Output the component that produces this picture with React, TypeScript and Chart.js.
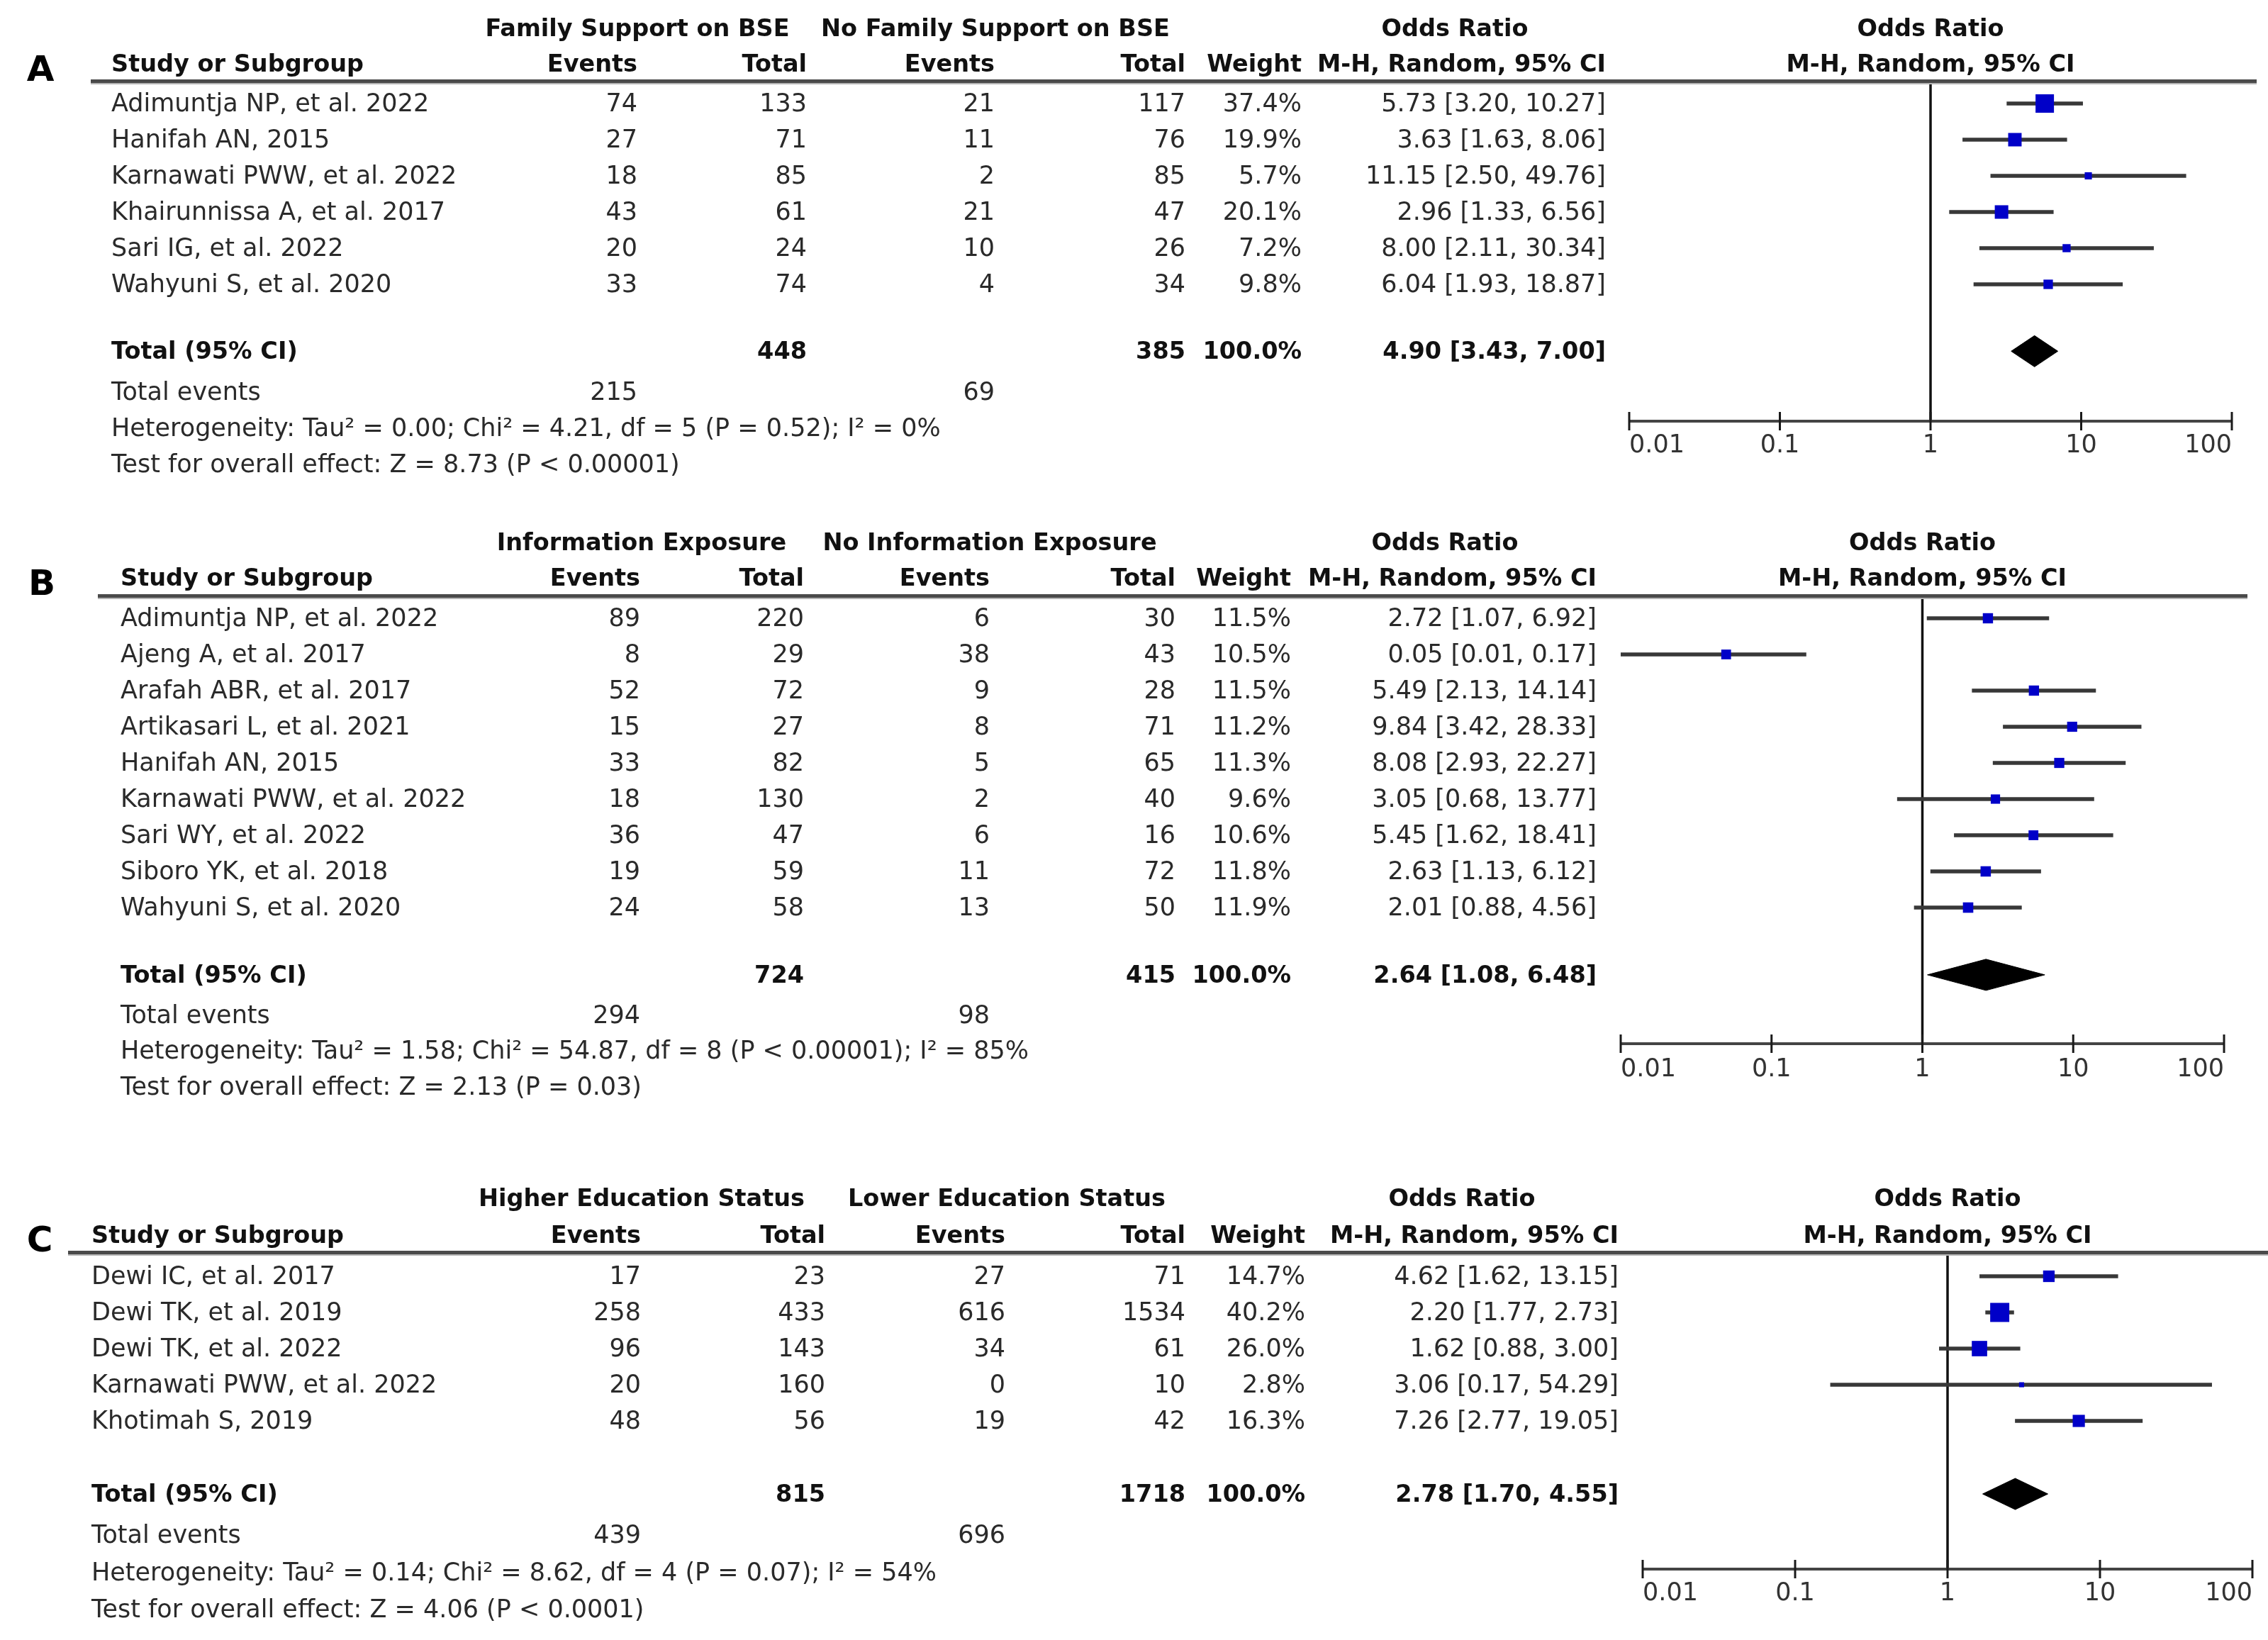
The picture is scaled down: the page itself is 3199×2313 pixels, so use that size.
import React, { useEffect, useRef } from 'react';
import { Chart, registerables } from 'chart.js';

Chart.register(...registerables);

// ---------- shared axis ----------
const TICK_VALUES = [0.01, 0.1, 1, 10, 100];
const TICK_LABELS = ['0.01', '0.1', '1', '10', '100'];

// ---------- Panel A ----------
const groupsA = ['Family Support on BSE', 'No Family Support on BSE'];
const studiesA = [
  'Adimuntja NP, et al. 2022',
  'Hanifah AN, 2015',
  'Karnawati PWW, et al. 2022',
  'Khairunnissa A, et al. 2017',
  'Sari IG, et al. 2022',
  'Wahyuni S, et al. 2020',
];
const expEventsA = [74, 27, 18, 43, 20, 33];
const expTotalA = [133, 71, 85, 61, 24, 74];
const ctrlEventsA = [21, 11, 2, 21, 10, 4];
const ctrlTotalA = [117, 76, 85, 47, 26, 34];
const weightA = [37.4, 19.9, 5.7, 20.1, 7.2, 9.8];
const orA = [5.73, 3.63, 11.15, 2.96, 8.0, 6.04];
const loA = [3.2, 1.63, 2.5, 1.33, 2.11, 1.93];
const hiA = [10.27, 8.06, 49.76, 6.56, 30.34, 18.87];
const totalsA = [448, 385];
const totalEventsA = [215, 69];
const pooledA = [4.9, 3.43, 7.0];
const hetA = 'Heterogeneity: Tau² = 0.00; Chi² = 4.21, df = 5 (P = 0.52); I² = 0%';
const testA = 'Test for overall effect: Z = 8.73 (P < 0.00001)';

// ---------- Panel B ----------
const groupsB = ['Information Exposure', 'No Information Exposure'];
const studiesB = [
  'Adimuntja NP, et al. 2022',
  'Ajeng A, et al. 2017',
  'Arafah ABR, et al. 2017',
  'Artikasari L, et al. 2021',
  'Hanifah AN, 2015',
  'Karnawati PWW, et al. 2022',
  'Sari WY, et al. 2022',
  'Siboro YK, et al. 2018',
  'Wahyuni S, et al. 2020',
];
const expEventsB = [89, 8, 52, 15, 33, 18, 36, 19, 24];
const expTotalB = [220, 29, 72, 27, 82, 130, 47, 59, 58];
const ctrlEventsB = [6, 38, 9, 8, 5, 2, 6, 11, 13];
const ctrlTotalB = [30, 43, 28, 71, 65, 40, 16, 72, 50];
const weightB = [11.5, 10.5, 11.5, 11.2, 11.3, 9.6, 10.6, 11.8, 11.9];
const orB = [2.72, 0.05, 5.49, 9.84, 8.08, 3.05, 5.45, 2.63, 2.01];
const loB = [1.07, 0.01, 2.13, 3.42, 2.93, 0.68, 1.62, 1.13, 0.88];
const hiB = [6.92, 0.17, 14.14, 28.33, 22.27, 13.77, 18.41, 6.12, 4.56];
const totalsB = [724, 415];
const totalEventsB = [294, 98];
const pooledB = [2.64, 1.08, 6.48];
const hetB = 'Heterogeneity: Tau² = 1.58; Chi² = 54.87, df = 8 (P < 0.00001); I² = 85%';
const testB = 'Test for overall effect: Z = 2.13 (P = 0.03)';

// ---------- Panel C ----------
const groupsC = ['Higher Education Status', 'Lower Education Status'];
const studiesC = [
  'Dewi IC, et al. 2017',
  'Dewi TK, et al. 2019',
  'Dewi TK, et al. 2022',
  'Karnawati PWW, et al. 2022',
  'Khotimah S, 2019',
];
const expEventsC = [17, 258, 96, 20, 48];
const expTotalC = [23, 433, 143, 160, 56];
const ctrlEventsC = [27, 616, 34, 0, 19];
const ctrlTotalC = [71, 1534, 61, 10, 42];
const weightC = [14.7, 40.2, 26.0, 2.8, 16.3];
const orC = [4.62, 2.2, 1.62, 3.06, 7.26];
const loC = [1.62, 1.77, 0.88, 0.17, 2.77];
const hiC = [13.15, 2.73, 3.0, 54.29, 19.05];
const totalsC = [815, 1718];
const totalEventsC = [439, 696];
const pooledC = [2.78, 1.7, 4.55];
const hetC = 'Heterogeneity: Tau² = 0.14; Chi² = 8.62, df = 4 (P = 0.07); I² = 54%';
const testC = 'Test for overall effect: Z = 4.06 (P < 0.0001)';

// ---------- layout (page pixels) ----------
const PAGE_W = 3199;
const FONT = '"DejaVu Sans", "Liberation Sans", sans-serif';
const BOX_K = 4.25; // px per sqrt(weight %)
const DIAMOND_HALF = 22; // px
const TEXT_DY = 2;

type Cols = { study: number; ev1: number; tot1: number; grp1: number; ev2: number; tot2: number; grp2: number; wt: number; ci: number; or: number };
type Layout = {
  top: number; height: number; letterX: number; letterY: number; h1Y: number; h2Y: number;
  ruleY: number; ruleX0: number; ruleX1: number; axisY: number; tickLabelY: number;
  x001: number; x100: number; firstRowY: number; pitch: number; totalGap: number; extra: number[]; cols: Cols;
};

const layoutA: Layout = {
  top: 0, height: 720, letterX: 57, letterY: 99, h1Y: 40, h2Y: 90,
  ruleY: 115, ruleX0: 128, ruleX1: 3183, axisY: 594, tickLabelY: 627,
  x001: 2298, x100: 3148, firstRowY: 146, pitch: 51, totalGap: 0.85, extra: [1.12, 2.12, 3.12],
  cols: { study: 157, ev1: 899, tot1: 1138, grp1: 899, ev2: 1403, tot2: 1672, grp2: 1404, wt: 1836, ci: 2265, or: 2052 },
};
const layoutB: Layout = {
  top: 720, height: 880, letterX: 59, letterY: 824, h1Y: 765, h2Y: 815,
  ruleY: 841, ruleX0: 138, ruleX1: 3170, axisY: 1472, tickLabelY: 1507,
  x001: 2286, x100: 3137, firstRowY: 872, pitch: 51, totalGap: 0.86, extra: [1.12, 2.1, 3.1],
  cols: { study: 170, ev1: 903, tot1: 1134, grp1: 905, ev2: 1396, tot2: 1658, grp2: 1396, wt: 1821, ci: 2252, or: 2038 },
};
const layoutC: Layout = {
  top: 1600, height: 713, letterX: 56, letterY: 1750, h1Y: 1690, h2Y: 1742,
  ruleY: 1767, ruleX0: 96, ruleX1: 3199, axisY: 2213, tickLabelY: 2246,
  x001: 2317, x100: 3177, firstRowY: 1800, pitch: 51, totalGap: 1.02, extra: [1.14, 2.18, 3.2],
  cols: { study: 129, ev1: 904, tot1: 1164, grp1: 905, ev2: 1418, tot2: 1672, grp2: 1420, wt: 1841, ci: 2283, or: 2062 },
};

type PanelData = {
  letter: string; groups: string[]; studies: string[]; expEvents: number[]; expTotal: number[];
  ctrlEvents: number[]; ctrlTotal: number[]; weight: number[]; or: number[]; lo: number[]; hi: number[];
  totals: number[]; totalEvents: number[]; pooled: number[]; het: string; test: string;
};

const panelA: PanelData = { letter: 'A', groups: groupsA, studies: studiesA, expEvents: expEventsA, expTotal: expTotalA, ctrlEvents: ctrlEventsA, ctrlTotal: ctrlTotalA, weight: weightA, or: orA, lo: loA, hi: hiA, totals: totalsA, totalEvents: totalEventsA, pooled: pooledA, het: hetA, test: testA };
const panelB: PanelData = { letter: 'B', groups: groupsB, studies: studiesB, expEvents: expEventsB, expTotal: expTotalB, ctrlEvents: ctrlEventsB, ctrlTotal: ctrlTotalB, weight: weightB, or: orB, lo: loB, hi: hiB, totals: totalsB, totalEvents: totalEventsB, pooled: pooledB, het: hetB, test: testB };
const panelC: PanelData = { letter: 'C', groups: groupsC, studies: studiesC, expEvents: expEventsC, expTotal: expTotalC, ctrlEvents: ctrlEventsC, ctrlTotal: ctrlTotalC, weight: weightC, or: orC, lo: loC, hi: hiC, totals: totalsC, totalEvents: totalEventsC, pooled: pooledC, het: hetC, test: testC };

const fmtCI = (o: number, l: number, h: number) => `${o.toFixed(2)} [${l.toFixed(2)}, ${h.toFixed(2)}]`;

function put(ctx: CanvasRenderingContext2D, s: string, x: number, y: number, align: CanvasTextAlign, bold = false, size?: number, color?: string) {
  const sz = size ?? (bold ? 33.5 : 35);
  ctx.font = `${bold ? 'bold ' : ''}${sz}px ${FONT}`;
  ctx.fillStyle = color ?? (bold ? '#111' : '#2a2a2a');
  ctx.textAlign = align;
  ctx.textBaseline = 'middle';
  ctx.fillText(s, x, y + TEXT_DY);
}

function ForestPanel({ d, L }: { d: PanelData; L: Layout }) {
  const ref = useRef<HTMLCanvasElement | null>(null);

  useEffect(() => {
    if (!ref.current) return;
    const n = d.studies.length;
    const yMin = (L.ruleY - L.firstRowY) / L.pitch;
    const yMax = (L.axisY - L.firstRowY) / L.pitch;
    const totalV = n + L.totalGap;
    const dh = DIAMOND_HALF / L.pitch;

    const ciSets = d.studies.map((_, i) => ({
      data: [{ x: d.lo[i], y: i }, { x: d.hi[i], y: i }],
      showLine: true,
      borderColor: '#383838',
      borderWidth: 5.5,
      borderCapStyle: 'butt' as const,
      pointRadius: 0,
      clip: false as const,
      order: 2,
    }));

    const datasets: any[] = [
      {
        data: d.or.map((v, i) => ({ x: v, y: i })),
        pointStyle: 'rect',
        pointRadius: d.weight.map((w) => (BOX_K * Math.sqrt(w)) / Math.SQRT2),
        backgroundColor: '#0000c8',
        borderWidth: 0,
        showLine: false,
        clip: false,
        order: 0,
      },
      {
        data: [
          { x: d.pooled[1], y: totalV },
          { x: d.pooled[0], y: totalV - dh },
          { x: d.pooled[2], y: totalV },
          { x: d.pooled[0], y: totalV + dh },
          { x: d.pooled[1], y: totalV },
        ],
        showLine: true,
        fill: 'shape',
        backgroundColor: '#000',
        borderColor: '#000',
        borderWidth: 1,
        pointRadius: 0,
        tension: 0,
        clip: false,
        order: 1,
      },
      ...ciSets,
      {
        data: [{ x: 1, y: yMin }, { x: 1, y: yMax }],
        showLine: true,
        borderColor: '#111',
        borderWidth: 3.5,
        pointRadius: 0,
        clip: false,
        order: 3,
      },
    ];

    const tablePlugin = {
      id: 'forestTable',
      afterDraw(chart: any) {
        const ctx: CanvasRenderingContext2D = chart.ctx;
        const xs = chart.scales.x;
        const ys = chart.scales.y;
        const T = L.top;
        const c = L.cols;
        const x1 = xs.getPixelForValue(1);
        ctx.save();
        // panel letter
        put(ctx, d.letter, L.letterX, L.letterY - T, 'center', true, 50, '#000');
        // headers
        put(ctx, d.groups[0], c.grp1, L.h1Y - T, 'center', true);
        put(ctx, d.groups[1], c.grp2, L.h1Y - T, 'center', true);
        put(ctx, 'Odds Ratio', c.or, L.h1Y - T, 'center', true);
        put(ctx, 'Odds Ratio', x1, L.h1Y - T, 'center', true);
        put(ctx, 'Study or Subgroup', c.study, L.h2Y - T, 'left', true);
        put(ctx, 'Events', c.ev1, L.h2Y - T, 'right', true);
        put(ctx, 'Total', c.tot1, L.h2Y - T, 'right', true);
        put(ctx, 'Events', c.ev2, L.h2Y - T, 'right', true);
        put(ctx, 'Total', c.tot2, L.h2Y - T, 'right', true);
        put(ctx, 'Weight', c.wt, L.h2Y - T, 'right', true);
        put(ctx, 'M-H, Random, 95% CI', c.ci, L.h2Y - T, 'right', true);
        put(ctx, 'M-H, Random, 95% CI', x1, L.h2Y - T, 'center', true);
        // header rule
        ctx.fillStyle = '#4a4a4a';
        ctx.fillRect(L.ruleX0, L.ruleY - T - 3, L.ruleX1 - L.ruleX0, 5);
        ctx.fillStyle = '#b4b4b4';
        ctx.fillRect(L.ruleX0, L.ruleY - T + 2, L.ruleX1 - L.ruleX0, 2);
        // study rows
        d.studies.forEach((s, i) => {
          const py = ys.getPixelForValue(i);
          put(ctx, s, c.study, py, 'left');
          put(ctx, String(d.expEvents[i]), c.ev1, py, 'right');
          put(ctx, String(d.expTotal[i]), c.tot1, py, 'right');
          put(ctx, String(d.ctrlEvents[i]), c.ev2, py, 'right');
          put(ctx, String(d.ctrlTotal[i]), c.tot2, py, 'right');
          put(ctx, d.weight[i].toFixed(1) + '%', c.wt, py, 'right');
          put(ctx, fmtCI(d.or[i], d.lo[i], d.hi[i]), c.ci, py, 'right');
        });
        // total row
        const pt = ys.getPixelForValue(totalV);
        put(ctx, 'Total (95% CI)', c.study, pt, 'left', true);
        put(ctx, String(d.totals[0]), c.tot1, pt, 'right', true);
        put(ctx, String(d.totals[1]), c.tot2, pt, 'right', true);
        put(ctx, '100.0%', c.wt, pt, 'right', true);
        put(ctx, fmtCI(d.pooled[0], d.pooled[1], d.pooled[2]), c.ci, pt, 'right', true);
        // total events / heterogeneity / overall effect
        const pe = ys.getPixelForValue(totalV + L.extra[0]);
        put(ctx, 'Total events', c.study, pe, 'left');
        put(ctx, String(d.totalEvents[0]), c.ev1, pe, 'right');
        put(ctx, String(d.totalEvents[1]), c.ev2, pe, 'right');
        put(ctx, d.het, c.study, ys.getPixelForValue(totalV + L.extra[1]), 'left');
        put(ctx, d.test, c.study, ys.getPixelForValue(totalV + L.extra[2]), 'left');
        // x axis line, ticks, labels
        const ab = chart.chartArea.bottom;
        const xa = xs.getPixelForValue(TICK_VALUES[0]);
        const xb = xs.getPixelForValue(TICK_VALUES[TICK_VALUES.length - 1]);
        ctx.strokeStyle = '#444';
        ctx.lineWidth = 4;
        ctx.beginPath();
        ctx.moveTo(xa, ab);
        ctx.lineTo(xb, ab);
        ctx.stroke();
        ctx.strokeStyle = '#1a1a1a';
        ctx.lineWidth = 3;
        TICK_VALUES.forEach((v, i) => {
          const px = xs.getPixelForValue(v);
          ctx.beginPath();
          ctx.moveTo(px, ab - 13);
          ctx.lineTo(px, ab + 13);
          ctx.stroke();
          const align: CanvasTextAlign = i === 0 ? 'left' : i === TICK_VALUES.length - 1 ? 'right' : 'center';
          put(ctx, TICK_LABELS[i], px, L.tickLabelY - T, align, false, 35, '#333');
        });
        ctx.restore();
      },
    };

    const chart = new Chart(ref.current, {
      type: 'scatter',
      data: { datasets },
      options: {
        animation: false,
        responsive: false,
        events: [],
        layout: {
          autoPadding: false,
          padding: {
            left: L.x001,
            right: PAGE_W - L.x100,
            top: L.ruleY - L.top,
            bottom: L.top + L.height - L.axisY,
          },
        },
        scales: {
          x: { type: 'logarithmic', min: TICK_VALUES[0], max: TICK_VALUES[TICK_VALUES.length - 1], display: false },
          y: { type: 'linear', min: yMin, max: yMax, reverse: true, display: false },
        },
        plugins: { legend: { display: false }, tooltip: { enabled: false } },
      } as any,
      plugins: [tablePlugin],
    });
    return () => chart.destroy();
  }, [d, L]);

  return (
    <canvas
      ref={ref}
      width={PAGE_W}
      height={L.height}
      style={{ position: 'absolute', left: 0, top: L.top, width: PAGE_W, height: L.height, display: 'block' }}
    />
  );
}

export default function App() {
  return (
    <div style={{ position: 'absolute', left: 0, top: 0, width: PAGE_W, height: 2313, background: '#fff', overflow: 'hidden' }}>
      <ForestPanel d={panelA} L={layoutA} />
      <ForestPanel d={panelB} L={layoutB} />
      <ForestPanel d={panelC} L={layoutC} />
    </div>
  );
}
